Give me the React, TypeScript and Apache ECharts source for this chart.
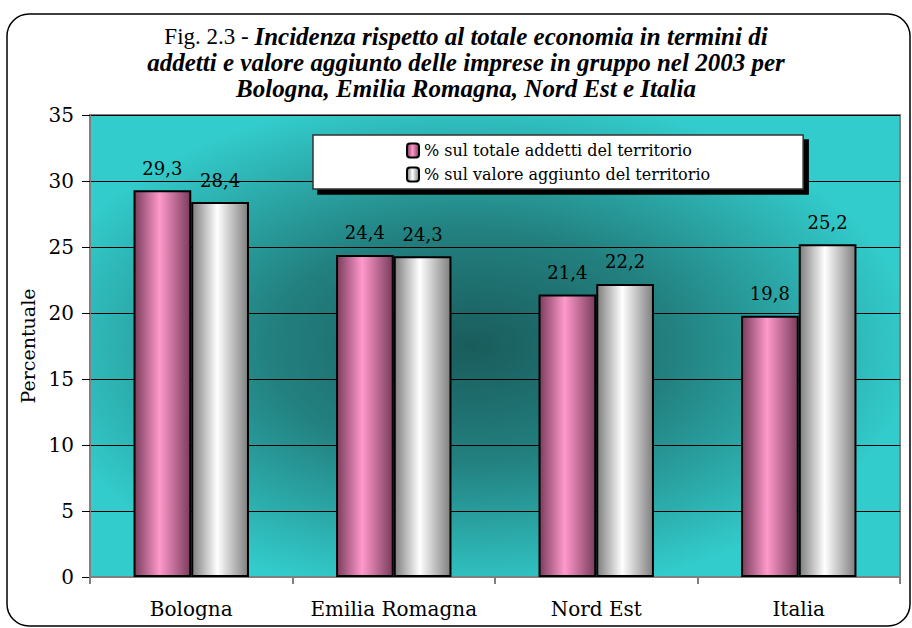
import React, { useEffect, useRef } from "react";
import * as echarts from "echarts";

const categories = ["Bologna", "Emilia Romagna", "Nord Est", "Italia"];
const seriesNames = [
  "% sul totale addetti del territorio",
  "% sul valore aggiunto del territorio",
];
const addetti = [29.3, 24.4, 21.4, 19.8];
const valoreAggiunto = [28.4, 24.3, 22.2, 25.2];
const yTicks = { min: 0, max: 35, interval: 5 };

const SERIF = "'Liberation Serif', serif";
const WIDE = "'DejaVu Serif', serif";

function grad(edge: string, mid: string) {
  return new echarts.graphic.LinearGradient(0, 0, 1, 0, [
    { offset: 0, color: edge },
    { offset: 0.45, color: mid },
    { offset: 1, color: edge },
  ]);
}

export default function App() {
  const ref = useRef<HTMLDivElement>(null);
  useEffect(() => {
    document.body.style.margin = "0";
    const chart = echarts.init(ref.current!, null, { renderer: "svg" });
    const labelFmt = (p: any) => String(p.value).replace(".", ",");
    const label = {
      show: true,
      position: "top",
      distance: 13,
      fontFamily: WIDE,
      fontSize: 18,
      color: "#000",
      formatter: labelFmt,
    };
    chart.setOption({
      animation: false,
      backgroundColor: "#fff",
      title: {
        text:
          "{n|Fig. 2.3 - }{b|Incidenza rispetto al totale economia in termini di}\n{b|addetti e valore aggiunto delle imprese in gruppo nel 2003 per}\n{b|Bologna, Emilia Romagna, Nord Est e Italia}",
        left: 466,
        textAlign: "center",
        top: 23,
        padding: 0,
        textStyle: {
          rich: {
            n: {
              fontFamily: SERIF,
              fontSize: 23,
              fontWeight: "normal",
              color: "#000",
              lineHeight: 26,
            },
            b: {
              fontFamily: SERIF,
              fontSize: 25,
              fontWeight: "bold",
              fontStyle: "italic",
              color: "#000",
              lineHeight: 26,
            },
          },
        },
      },
      graphic: [
        {
          type: "rect",
          shape: { x: 7, y: 14, width: 903, height: 612, r: 22 },
          style: { fill: "none", stroke: "#000", lineWidth: 1.5 },
          z: 100,
          silent: true,
        },
      ],
      legend: {
        orient: "vertical",
        left: 313,
        top: 135,
        itemWidth: 12,
        itemHeight: 14,
        itemGap: 7,
        padding: [7, 93, 6, 93],
        backgroundColor: "#fff",
        borderColor: "#333",
        borderWidth: 1.5,
        borderRadius: 0,
        shadowColor: "#000",
        shadowOffsetX: 5,
        shadowOffsetY: 5,
        shadowBlur: 0,
        textStyle: { fontFamily: WIDE, fontSize: 16, color: "#000", lineHeight: 17 },
        data: seriesNames,
      },
      grid: {
        left: 90,
        right: 12,
        top: 115,
        bottom: 51,
        show: true,
        borderColor: "#808080",
        borderWidth: 2,
        backgroundColor: new echarts.graphic.RadialGradient(0.47, 0.5, 0.55, [
          { offset: 0, color: "#1a5c5c" },
          { offset: 0.45, color: "#22807f" },
          { offset: 1, color: "#33cccc" },
        ]),
      },
      xAxis: {
        type: "category",
        data: categories,
        axisLine: { lineStyle: { color: "#808080", width: 2 } },
        axisTick: { show: true, length: 7, lineStyle: { color: "#808080", width: 2 } },
        axisLabel: {
          interval: 0,
          fontFamily: WIDE,
          fontSize: 20,
          color: "#000",
          margin: 22,
        },
      },
      yAxis: {
        type: "value",
        min: yTicks.min,
        max: yTicks.max,
        interval: yTicks.interval,
        name: "Percentuale",
        nameLocation: "middle",
        nameGap: 50,
        nameTextStyle: { fontFamily: WIDE, fontSize: 19, color: "#000" },
        axisLine: { show: true, lineStyle: { color: "#808080", width: 2 } },
        axisTick: { show: true, length: 8, lineStyle: { color: "#000" } },
        axisLabel: { fontFamily: WIDE, fontSize: 20, color: "#000", margin: 16 },
        splitLine: { lineStyle: { color: "#000", width: 1 } },
      },
      series: [
        {
          name: seriesNames[0],
          type: "bar",
          data: addetti,
          barGap: "0%",
          barCategoryGap: "43%",
          itemStyle: {
            color: grad("#7a3d5c", "#ff99cc"),
            borderColor: "#000",
            borderWidth: 2,
          },
          label,
        },
        {
          name: seriesNames[1],
          type: "bar",
          data: valoreAggiunto,
          barGap: "0%",
          barCategoryGap: "43%",
          itemStyle: {
            color: grad("#7f7f7f", "#ffffff"),
            borderColor: "#000",
            borderWidth: 2,
          },
          label,
        },
      ],
    });
    return () => chart.dispose();
  }, []);
  return <div ref={ref} style={{ width: 912, height: 628 }} />;
}
